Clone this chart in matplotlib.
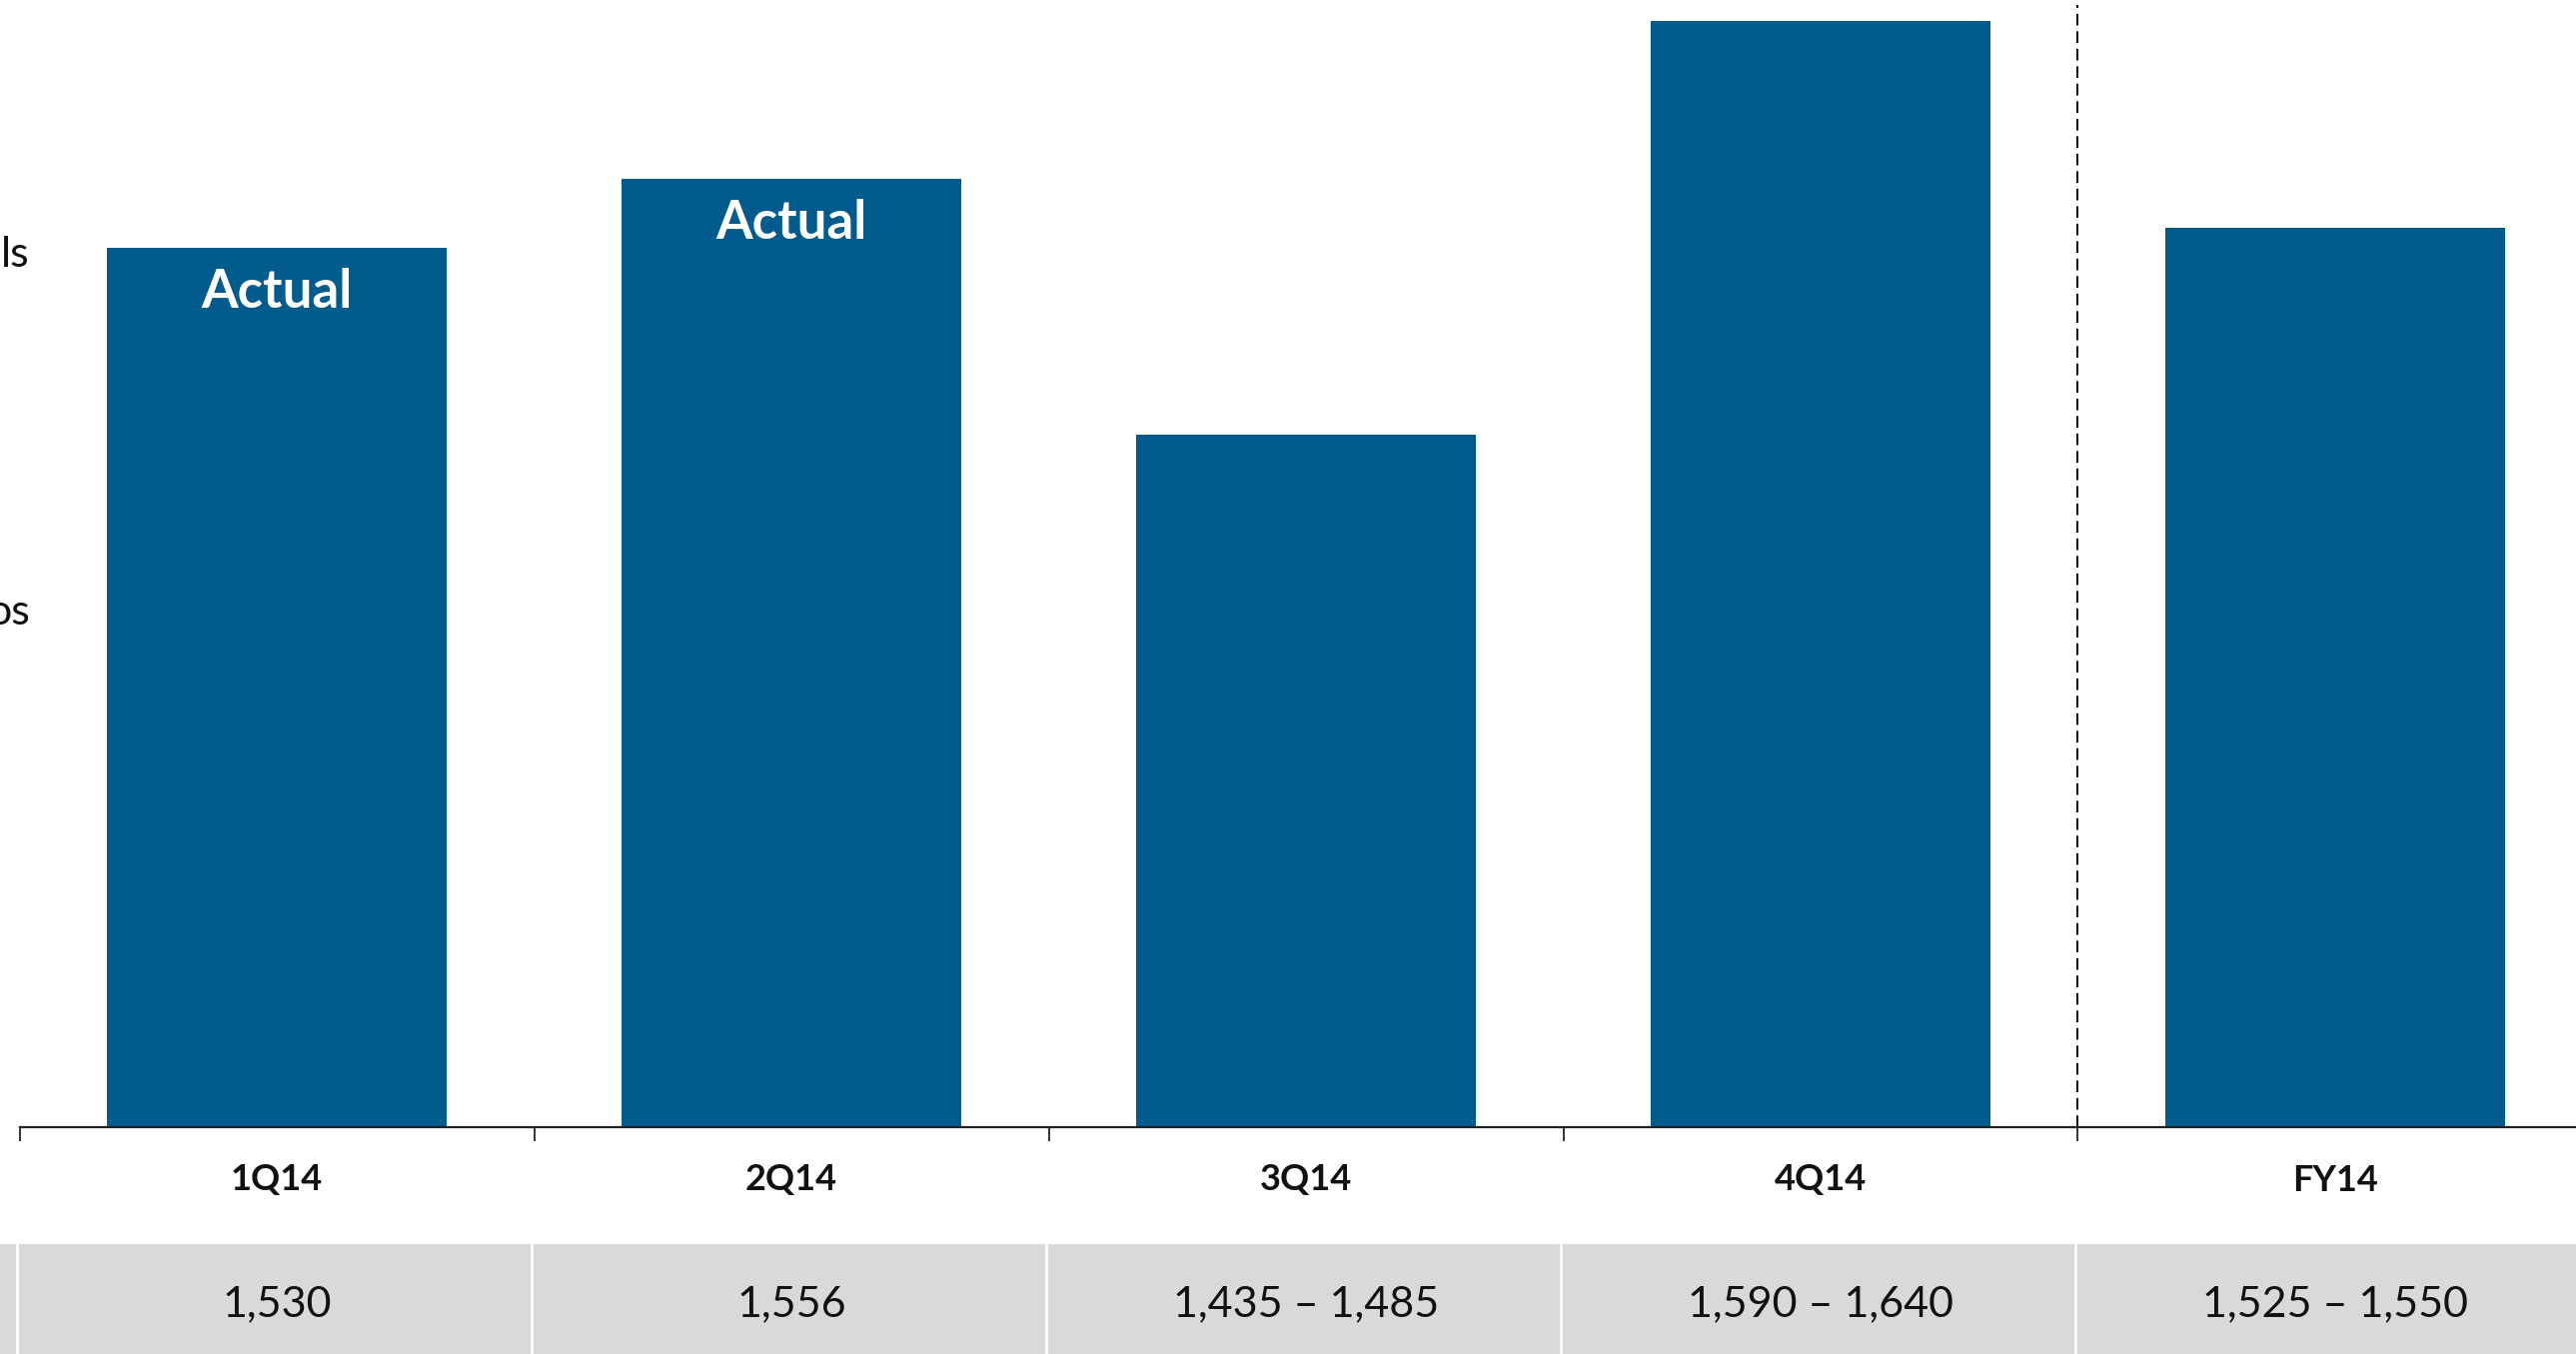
import matplotlib.pyplot as plt
import numpy as np

# Volume guidance; ranges drawn at their midpoint
periods = ['1Q14', '2Q14', '3Q14', '4Q14', 'FY14']
low = [1530, 1556, 1435, 1590, 1525]
high = [1530, 1556, 1485, 1640, 1550]
row_labels = ['1,530', '1,556', '1,435 \u2013 1,485', '1,590 \u2013 1,640', '1,525 \u2013 1,550']
bar_notes = ['Actual', 'Actual', '', '', '']

mid = [(a + b) / 2 for a, b in zip(low, high)]
x = np.arange(len(periods))

plt.rcParams['font.family'] = ['Lato', 'DejaVu Sans']

W, H = 2578, 1355
fig = plt.figure(figsize=(W / 100, H / 100), dpi=100)
fig.patch.set_facecolor('white')

base_px = 1128
ax = fig.add_axes([0, (H - base_px) / H, 1, base_px / H])
ax.set_facecolor('none')

bar_color = '#015B8C'
ax.bar(x, mid, width=0.66, color=bar_color)
ax.set_ylim(1200, 1623)
ax.set_xlim(-0.538, 4.468)

for xi, v, note in zip(x, mid, bar_notes):
    if note:
        ax.annotate(note, (xi, v), xytext=(0, -32), textcoords='offset points',
                    ha='center', va='center', color='white', fontsize=38,
                    fontweight='bold')

# dashed separator before full-year bar
ax.plot([3.5, 3.5], [1200, 1621], color='black', linestyle=(0, (6, 3)), lw=1.4)

for s in ['top', 'right', 'left']:
    ax.spines[s].set_visible(False)
ax.spines['bottom'].set_bounds(-0.5, 4.468)
ax.spines['bottom'].set_linewidth(1.6)
ax.spines['bottom'].set_color('#222222')
ax.set_yticks([])
ax.set_xticks(x - 0.5)
ax.set_xticklabels([])
ax.tick_params(axis='x', direction='out', length=10, width=1.3, color='#222222')

# category labels under the axis
for xi, lab in zip(x, periods):
    fig.text(ax.transData.transform((xi, 1200))[0] / W, (H - 1181) / H, lab,
             ha='center', va='center', fontsize=26, fontweight='bold', color='#111111')

# grey table row
band_top = 1245
band = fig.add_axes([0, 0, 1, (H - band_top) / H])
band.set_xlim(ax.get_xlim())
band.set_ylim(0, 1)
band.set_facecolor('#D9D9D9')
for s in band.spines.values():
    s.set_visible(False)
band.set_xticks([])
band.set_yticks([])
for xi in x:
    band.axvline(xi - 0.505, color='white', lw=2)
for xi, lab in zip(x, row_labels):
    band.text(xi, 0.45, lab, ha='center', va='center', fontsize=31, color='#111111')

# fragments of left-hand labels cut off by the crop
fig.text(30 / W, 1 - 255 / H, 'ls', ha='right', va='center', fontsize=31, color='#111111')
fig.text(30 / W, 1 - 613 / H, 'os', ha='right', va='center', fontsize=31, color='#111111')

fig.savefig('out.png', dpi=100)
